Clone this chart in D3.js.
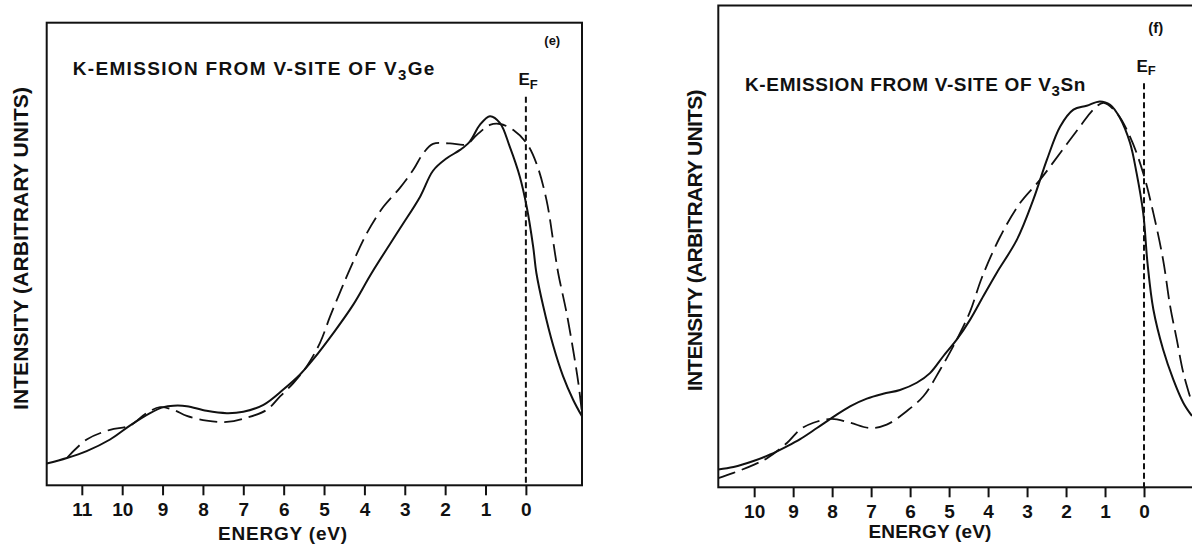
<!DOCTYPE html>
<html>
<head>
<meta charset="utf-8">
<script src="https://d3js.org/d3.v7.min.js"></script>
<style>
    html, body { margin: 0; padding: 0; background: #fff; }
    svg { display: block; }
</style>
</head>
<body>
<div id="chart"></div>
<script>
// ============================================================
// Data (energy in eV, intensity arbitrary 0-100)
// ============================================================
var geRange = [11.87, -1.39];
var geTicks = [11, 10, 9, 8, 7, 6, 5, 4, 3, 2, 1, 0];
var geSolidEnergy    = [11.87, 11.37, 10.88, 10.30, 9.81, 9.31, 8.98, 8.73, 8.40, 7.91, 7.41, 7.00, 6.50, 6.01, 5.60, 5.27, 4.77, 4.28, 3.82, 3.12, 2.62, 2.30, 1.96, 1.63, 1.39, 1.14, 0.89, 0.64, 0.40, 0.15, -0.02, -0.18, -0.26, -0.43, -0.68, -0.92, -1.17, -1.39];
var geSolidIntensity = [4.7, 5.9, 7.4, 9.9, 12.9, 15.6, 16.9, 17.2, 17.1, 16.1, 15.6, 15.9, 17.4, 20.7, 23.9, 27.2, 32.9, 39.0, 45.9, 55.5, 62.4, 68.0, 70.7, 72.5, 74.3, 77.9, 79.8, 78.3, 73.2, 66.7, 60.2, 51.6, 45.9, 38.7, 30.1, 23.6, 18.5, 14.9];
var geDashedEnergy    = [11.37, 10.88, 10.30, 9.81, 9.40, 9.06, 8.73, 8.40, 7.91, 7.41, 6.92, 6.42, 6.09, 5.76, 5.43, 5.10, 4.85, 4.61, 4.40, 3.94, 3.53, 3.12, 2.79, 2.54, 2.30, 1.88, 1.47, 1.22, 0.89, 0.64, 0.31, -0.02, -0.26, -0.51, -0.72, -0.80, -1.01, -1.17, -1.30, -1.39];
var geDashedIntensity = [5.9, 9.9, 12.0, 12.9, 15.6, 16.9, 16.3, 15.0, 14.0, 13.7, 14.6, 16.3, 19.2, 22.1, 25.7, 30.8, 36.5, 41.6, 45.9, 54.5, 60.2, 64.3, 68.2, 71.8, 73.8, 73.9, 73.7, 75.7, 77.9, 78.1, 76.8, 73.9, 69.6, 61.7, 50.2, 45.9, 37.2, 29.3, 22.1, 15.6];

var snRange = [10.92, -1.39];
var snTicks = [10, 9, 8, 7, 6, 5, 4, 3, 2, 1, 0];
var snSolidEnergy    = [10.92, 10.53, 10.00, 9.59, 9.16, 8.82, 8.39, 7.97, 7.54, 7.11, 6.69, 6.26, 5.83, 5.49, 5.15, 4.80, 4.46, 4.12, 3.78, 3.26, 2.84, 2.49, 2.15, 1.81, 1.47, 1.13, 0.87, 0.62, 0.36, 0.19, 0.02, -0.09, -0.24, -0.49, -0.75, -1.01, -1.23];
var snSolidIntensity = [3.7, 4.2, 5.5, 6.8, 8.5, 10.0, 12.3, 14.6, 16.8, 18.4, 19.4, 20.2, 21.7, 23.7, 27.2, 30.7, 34.8, 39.7, 44.5, 51.4, 59.7, 68.0, 74.9, 78.4, 79.2, 80.1, 79.4, 76.7, 71.5, 65.2, 56.9, 46.5, 36.9, 28.6, 22.4, 17.5, 14.8];
var snDashedEnergy    = [10.92, 10.53, 10.00, 9.66, 9.16, 8.82, 8.48, 8.01, 7.54, 7.03, 6.60, 6.09, 5.66, 5.23, 4.80, 4.46, 4.16, 3.69, 3.18, 2.67, 2.15, 1.64, 1.30, 1.04, 0.70, 0.36, 0.02, -0.24, -0.49, -0.67, -0.84, -1.01, -1.23];
var snDashedIntensity = [1.9, 3.0, 4.7, 6.1, 9.2, 12.0, 13.4, 14.2, 13.4, 12.3, 13.0, 15.8, 18.9, 24.4, 30.7, 36.5, 43.5, 52.0, 59.0, 63.8, 69.4, 74.9, 78.4, 79.8, 77.7, 72.8, 65.2, 56.9, 47.2, 37.6, 30.7, 23.7, 17.5];

var INK = "#111";
var FONT = "'Liberation Sans', Arial, Helvetica, sans-serif";

var svgContainer = d3.select("#chart").append("svg")
                        .attr("width", 1192)
                        .attr("height", 546)
                        .style("font-family", FONT);

function zip(e, i) {
    return e.map(function (v, k) { return { e: v, i: i[k] }; });
}

// stretch a text to the width it has in the scan
function fitText(sel, target) {
    var node = sel.node();
    var w = node.getComputedTextLength();
    var n = node.textContent.length;
    sel.style("letter-spacing", ((target - w) / n) + "px");
}

// ============================================================
// One panel
// ============================================================
function drawPanel(cfg, idx) {
    var g = svgContainer.append("g");
    var x = d3.scaleLinear().domain(cfg.range).range([cfg.left, cfg.right]);
    var y = d3.scaleLinear().domain([0, 100]).range([cfg.bottom, cfg.top]);

    g.append("clipPath").attr("id", "clip" + idx)
        .append("rect")
        .attr("x", cfg.left).attr("y", cfg.top)
        .attr("width", cfg.right - cfg.left).attr("height", cfg.bottom - cfg.top);

    var line = d3.line()
        .x(function (d) { return x(d.e); })
        .y(function (d) { return y(d.i); })
        .curve(d3.curveCatmullRom.alpha(0.5));

    g.append("path")
        .datum(zip(cfg.dashE, cfg.dashI))
        .attr("clip-path", "url(#clip" + idx + ")")
        .attr("d", line)
        .attr("fill", "none")
        .attr("stroke", INK)
        .attr("stroke-width", 1.8)
        .attr("stroke-dasharray", "18,7");

    g.append("path")
        .datum(zip(cfg.solidE, cfg.solidI))
        .attr("clip-path", "url(#clip" + idx + ")")
        .attr("d", line)
        .attr("fill", "none")
        .attr("stroke", INK)
        .attr("stroke-width", 2);

    // Fermi level
    g.append("line")
        .attr("x1", x(0)).attr("x2", x(0))
        .attr("y1", cfg.efTop).attr("y2", cfg.bottom)
        .attr("stroke", INK)
        .attr("stroke-width", 2)
        .attr("stroke-dasharray", "6,3.5");

    var ef = g.append("text")
        .attr("x", x(0) - 7.5)
        .attr("y", cfg.efY)
        .attr("fill", INK)
        .style("font-size", "17px")
        .style("font-weight", "bold");
    ef.append("tspan").text("E");
    ef.append("tspan").attr("dy", 3.5).style("font-size", "13px").text("F");

    // frame
    g.append("rect")
        .attr("x", cfg.left).attr("y", cfg.top)
        .attr("width", cfg.right - cfg.left)
        .attr("height", cfg.bottom - cfg.top)
        .attr("fill", "none")
        .attr("stroke", INK)
        .attr("stroke-width", 2);

    var axis = d3.axisBottom(x)
        .tickValues(cfg.ticks)
        .tickSize(10)
        .tickSizeOuter(0)
        .tickPadding(7.5)
        .tickFormat(d3.format("d"));
    var ax = g.append("g")
        .attr("transform", "translate(0," + cfg.bottom + ")")
        .call(axis);
    ax.attr("font-size", 19)
        .attr("font-family", FONT)
        .attr("font-weight", "bold");
    ax.select(".domain").remove();
    ax.selectAll(".tick line").attr("stroke", INK).attr("stroke-width", 2);
    ax.selectAll(".tick text").attr("fill", INK);

    // title
    var t = g.append("text")
        .attr("x", cfg.titleX)
        .attr("y", cfg.titleY)
        .attr("fill", INK)
        .style("font-size", "19px")
        .style("font-weight", "bold");
    t.append("tspan").text("K-EMISSION FROM V-SITE OF V");
    t.append("tspan").attr("dy", 5).style("font-size", "15px").text("3");
    t.append("tspan").attr("dy", -5).text(cfg.compound);
    fitText(t, cfg.titleW);

    g.append("text")
        .attr("x", cfg.tagX)
        .attr("y", cfg.tagY)
        .attr("fill", INK)
        .style("font-size", cfg.tagSize + "px")
        .style("font-weight", "bold")
        .text(cfg.tag);

    var yl = g.append("text")
        .attr("transform", "translate(" + cfg.yLabelX + "," + cfg.yLabelY + ") rotate(-90)")
        .attr("text-anchor", "middle")
        .attr("fill", INK)
        .style("font-size", "21px")
        .style("font-weight", "bold")
        .text("INTENSITY (ARBITRARY UNITS)");
    fitText(yl, cfg.yLabelW);

    var xl = g.append("text")
        .attr("x", cfg.xLabelX)
        .attr("y", cfg.xLabelY)
        .attr("text-anchor", "middle")
        .attr("fill", INK)
        .style("font-size", "19px")
        .style("font-weight", "bold")
        .text("ENERGY (eV)");
    fitText(xl, cfg.xLabelW);
}

// ============================================================
// Panels (e) V3Ge and (f) V3Sn
// ============================================================
drawPanel({
    range: geRange, ticks: geTicks,
    solidE: geSolidEnergy, solidI: geSolidIntensity,
    dashE: geDashedEnergy, dashI: geDashedIntensity,
    compound: "Ge", tag: "(e)",
    left: 46.7, right: 582, top: 22.7, bottom: 485.3,
    titleX: 72.7, titleY: 75, titleW: 363,
    tagX: 544.3, tagY: 45, tagSize: 13,
    efTop: 96.7, efY: 85,
    yLabelX: 28, yLabelY: 248.5, yLabelW: 323,
    xLabelX: 283, xLabelY: 539.7, xLabelW: 130
}, 0);

drawPanel({
    range: snRange, ticks: snTicks,
    solidE: snSolidEnergy, solidI: snSolidIntensity,
    dashE: snDashedEnergy, dashI: snDashedIntensity,
    compound: "Sn", tag: "(f)",
    left: 718.3, right: 1198.2, top: 5.5, bottom: 487.3,
    titleX: 745, titleY: 91, titleW: 341,
    tagX: 1148.3, tagY: 33.3, tagSize: 15,
    efTop: 83.3, efY: 71.7,
    yLabelX: 701.7, yLabelY: 240.7, yLabelW: 301,
    xLabelX: 930, xLabelY: 538, xLabelW: 123
}, 1);
</script>
</body>
</html>
